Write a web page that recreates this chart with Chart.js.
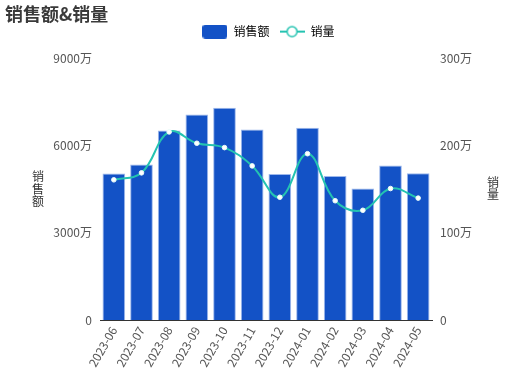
<!DOCTYPE html>
<html><head><meta charset="utf-8">
<script src="https://cdn.jsdelivr.net/npm/chart.js@4"></script>
<style>html,body{margin:0;padding:0;background:#fff}#wrap{width:532px;height:377px}</style>
</head><body><div id="wrap"><canvas id="c" width="532" height="377"></canvas></div>
<script>
const months = ['2023-06','2023-07','2023-08','2023-09','2023-10','2023-11','2023-12','2024-01','2024-02','2024-03','2024-04','2024-05'];
const salesAmount = [5050, 5360, 6530, 7080, 7310, 6560, 5030, 6620, 4960, 4530, 5320, 5060]; // 万
const salesVolume = [161, 169, 216, 203, 198, 177, 141, 191, 137, 126, 151, 140]; // 万
const leftTicks = [0, 3000, 6000, 9000];
const rightTicks = [0, 100, 200, 300];

const FONT = '"Noto Sans CJK SC", "Noto Sans", sans-serif';
const BAR = '#1352c6', BAR_BORDER = '#9db8ec', LINE = '#24c3b1';

function barIcon(){ const c=document.createElement('canvas'); c.width=25; c.height=14; const x=c.getContext('2d');
  x.fillStyle=BAR; x.beginPath(); x.roundRect(0,0,25,14,3); x.fill(); return c; }
function lineIcon(){ const c=document.createElement('canvas'); c.width=25; c.height=14; const x=c.getContext('2d');
  x.strokeStyle=LINE; x.lineWidth=2; x.beginPath(); x.moveTo(0,7); x.lineTo(25,7); x.stroke();
  x.fillStyle='#fff'; x.beginPath(); x.arc(12.5,7,5,0,Math.PI*2); x.fill(); x.lineWidth=1.5; x.stroke(); return c; }

const axisTitles = {
  id:'axisTitles',
  afterDraw(chart){ const {ctx, chartArea:a} = chart; ctx.save(); ctx.setTransform(1,0,0,1,0,0);
    ctx.font='12px '+FONT; ctx.fillStyle='#333';
    ctx.textAlign='center'; ctx.textBaseline='middle';
    const cy=(a.top+a.bottom)/2;
    ['销','售','额'].forEach((ch,i)=>ctx.fillText(ch, 38, cy+(i-1)*12.5));
    ['销','量'].forEach((ch,i)=>ctx.fillText(ch, 493, cy-1+(i-0.5)*12.5));
    ctx.restore(); }
};

new Chart(document.getElementById('c'), {
  data: {
    labels: months,
    datasets: [
      { type:'line', label:'销量', data: salesVolume, yAxisID:'y1', borderColor: LINE, borderWidth: 2,
        tension: 0.4, pointRadius: 2.3, pointBackgroundColor:'#fff', pointBorderColor:'#e8fbf8', pointBorderWidth: 1,
        order: 0 },
      { type:'bar', label:'销售额', data: salesAmount, yAxisID:'y', backgroundColor: BAR, borderColor: BAR_BORDER,
        borderWidth: 1, categoryPercentage: 1, barPercentage: 0.82, order: 1 }
    ]
  },
  options: {
    responsive:false, animation:false,
    layout:{ padding:{ left:5, right:0, top:0, bottom:0 } },
    plugins:{
      title:{ display:true, text:'销售额&销量', align:'start', color:'#3a3a3a', weight:2000,
        font:{ family:FONT, size:18, weight:'bold' }, padding:{ top:3, bottom:-9 } },
      subtitle:{ display:true, text:' ', weight:500, font:{ size:1 }, padding:{ top:0, bottom:10 } },
      legend:{ display:true, position:'top', weight:1000,
        labels:{ usePointStyle:true, pointStyleWidth:25, boxHeight:14, padding:10, color:'#333',
          font:{ family:FONT, size:12 },
          generateLabels(){ return [
            { text:'销售额', pointStyle: barIcon(), fillStyle:BAR, strokeStyle:BAR, lineWidth:0, hidden:false, datasetIndex:1 },
            { text:'销量', pointStyle: lineIcon(), fillStyle:'#fff', strokeStyle:LINE, lineWidth:0, hidden:false, datasetIndex:0 } ]; } } },
      tooltip:{ enabled:false }
    },
    scales:{
      x:{ grid:{ display:false, drawTicks:false }, border:{ display:true, color:'#333', width:1 },
        ticks:{ color:'#555', font:{ family:FONT, size:12 }, minRotation:60, maxRotation:60, padding:4 },
        afterFit(s){ s.height = 57; } },
      y:{ position:'left', min:0, max:9000, grid:{ display:false }, border:{ display:false },
        afterBuildTicks(s){ s.ticks = leftTicks.map(v=>({value:v})); },
        ticks:{ color:'#555', font:{ family:FONT, size:12 }, padding:0, callback:v=> v===0?'0':v+'万' },
        afterFit(s){ s.width = 95; } },
      y1:{ position:'right', min:0, max:300, grid:{ display:false }, border:{ display:false },
        afterBuildTicks(s){ s.ticks = rightTicks.map(v=>({value:v})); },
        ticks:{ color:'#555', font:{ family:FONT, size:12 }, padding:0, callback:v=> v===0?'0':v+'万' },
        afterFit(s){ s.width = 100; } }
    }
  },
  plugins:[axisTitles]
});
</script></body></html>
